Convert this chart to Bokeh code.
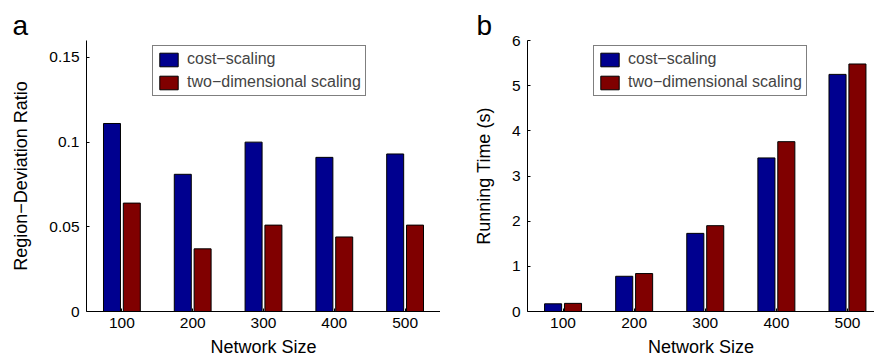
from bokeh.plotting import figure
from bokeh.layouts import row
from bokeh.models import ColumnDataSource, Legend, LegendItem, FixedTicker
from bokeh.embed import file_html
from bokeh.resources import INLINE

# ---- data ----
network_sizes = [100, 200, 300, 400, 500]
series_names = ["cost\u2212scaling", "two\u2212dimensional scaling"]
ratio_cost = [0.111, 0.081, 0.100, 0.091, 0.093]
ratio_2d = [0.064, 0.037, 0.051, 0.044, 0.051]
time_cost = [0.17, 0.78, 1.73, 3.40, 5.25]
time_2d = [0.18, 0.84, 1.90, 3.76, 5.48]
ratio_ticks = [0, 0.05, 0.1, 0.15]
ratio_tick_labels = ["0", "0.05", "0.1", "0.15"]
time_ticks = [0, 1, 2, 3, 4, 5, 6]

BLUE = "#00008f"
RED = "#800000"
FONT = "Liberation Sans"
OFF = 14
BW = 24


def make_panel(letter, v1, v2, ylab, yend, yticks, ylabels, xend, width, mbl, letter_off):
    p = figure(width=width, height=363, x_range=(50, xend), y_range=(0, yend),
               output_backend="svg", toolbar_location=None,
               min_border_left=mbl, min_border_right=0, min_border_top=40,
               min_border_bottom=52)
    p.outline_line_color = None
    p.grid.visible = False
    p.background_fill_color = "white"
    p.title.text = letter
    p.title.text_font = FONT
    p.title.text_font_size = "28px"
    p.title.text_font_style = "normal"
    p.title.text_color = "black"
    p.title.align = "left"
    p.title.offset = letter_off
    p.title.standoff = 0
    src = ColumnDataSource(dict(x1=[s - OFF for s in network_sizes],
                                x2=[s + OFF for s in network_sizes],
                                v1=v1, v2=v2))
    r1 = p.vbar(x="x1", top="v1", width=BW, bottom=0, source=src,
                fill_color=BLUE, line_color="black", line_width=1)
    r2 = p.vbar(x="x2", top="v2", width=BW, bottom=0, source=src,
                fill_color=RED, line_color="black", line_width=1)
    for ax in (p.xaxis[0], p.yaxis[0]):
        ax.major_tick_in = 3
        ax.major_tick_out = 0
        ax.minor_tick_line_color = None
        ax.axis_line_color = "black"
        ax.major_tick_line_color = "black"
        ax.major_label_text_font = FONT
        ax.major_label_text_font_size = "15.5px"
        ax.major_label_text_color = "black"
        ax.axis_label_text_font = FONT
        ax.axis_label_text_font_size = "18px"
        ax.axis_label_text_font_style = "normal"
        ax.axis_label_text_color = "black"
    p.xaxis.ticker = FixedTicker(ticks=network_sizes)
    p.xaxis.axis_label = "Network Size"
    p.xaxis.major_label_standoff = 6
    p.xaxis.axis_label_standoff = 6
    p.yaxis.ticker = FixedTicker(ticks=yticks)
    p.yaxis.major_label_overrides = {t: l for t, l in zip(yticks, ylabels)}
    p.yaxis.axis_label = ylab
    p.yaxis.major_label_standoff = 7
    p.yaxis.axis_label_standoff = 15

    leg = Legend(items=[LegendItem(label=series_names[0], renderers=[r1]),
                        LegendItem(label=series_names[1], renderers=[r2])],
                 location=(66, 215), orientation="vertical",
                 label_text_font=FONT, label_text_font_size="16px",
                 label_height=17, glyph_height=17, glyph_width=23,
                 spacing=5, padding=4, margin=0, label_standoff=7,
                 border_line_color="black", border_line_width=1.5,
                 background_fill_alpha=1.0)
    p.add_layout(leg, "center")
    return p


pa = make_panel("a", ratio_cost, ratio_2d, "Region\u2212Deviation Ratio", 0.16,
                ratio_ticks, ratio_tick_labels, 550, 440, 86, -74)
pb = make_panel("b", time_cost, time_2d, "Running Time (s)", 6,
                time_ticks, [str(t) for t in time_ticks], 538, 434, 87, -51)

layout = row(pa, pb)
open("out.html", "w").write(file_html(layout, INLINE))
